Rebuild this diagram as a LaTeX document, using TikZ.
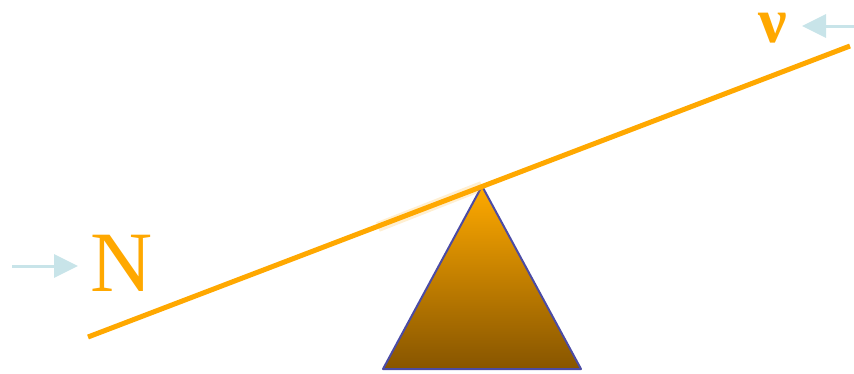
\documentclass[tikz,border=0pt]{standalone}
\usepackage{fontspec}
\setmainfont{Liberation Serif}
\usetikzlibrary{arrows.meta}
\definecolor{beam}{RGB}{255,168,0}
\definecolor{pivtop}{RGB}{255,170,0}
\definecolor{pivbot}{RGB}{135,85,0}
\definecolor{pivline}{RGB}{75,75,165}
\definecolor{flow}{RGB}{200,228,233}
\tikzset{
  beamline/.style={draw=beam, line width=5pt},
  flowarrow/.style={draw=flow, line width=3pt, -{Triangle[length=24pt,width=23pt]}},
  lbl/.style={text=beam, inner sep=0pt, anchor=base, font=\fontsize{86}{86}\selectfont},
}
\begin{document}
\begin{tikzpicture}[x=1pt,y=-1pt]
\useasboundingbox (0,0) rectangle (854,373);
% pivot
\coordinate (apex) at (482,186);
\coordinate (bl) at (383,369);
\coordinate (br) at (581,369);
\shade[top color=pivtop, bottom color=pivbot] (apex) -- (br) -- (bl) -- cycle;
\draw[pivline, line width=2pt, line join=round] (apex) -- (br) -- (bl) -- cycle;
% beam
\coordinate (b1) at (88,337);
\coordinate (b2) at (850,46);
\coordinate (g1) at (378,227);
\draw[beam, line width=10pt, opacity=0.18] (g1) -- (apex);
\draw[beamline] (b1) -- (b2);
% labels
\node[lbl] (N) at (122,291) {N};
\node[lbl, font=\fontsize{64}{64}\bfseries\selectfont] (nu) at (773,42) {ν};
% arrows
\coordinate (a1s) at (12,266);
\coordinate (a1e) at (78,266);
\draw[flowarrow] (a1s) -- (a1e);
\coordinate (a2s) at (854,26);
\coordinate (a2e) at (802,26);
\draw[flowarrow] (a2s) -- (a2e);
\end{tikzpicture}
\end{document}
